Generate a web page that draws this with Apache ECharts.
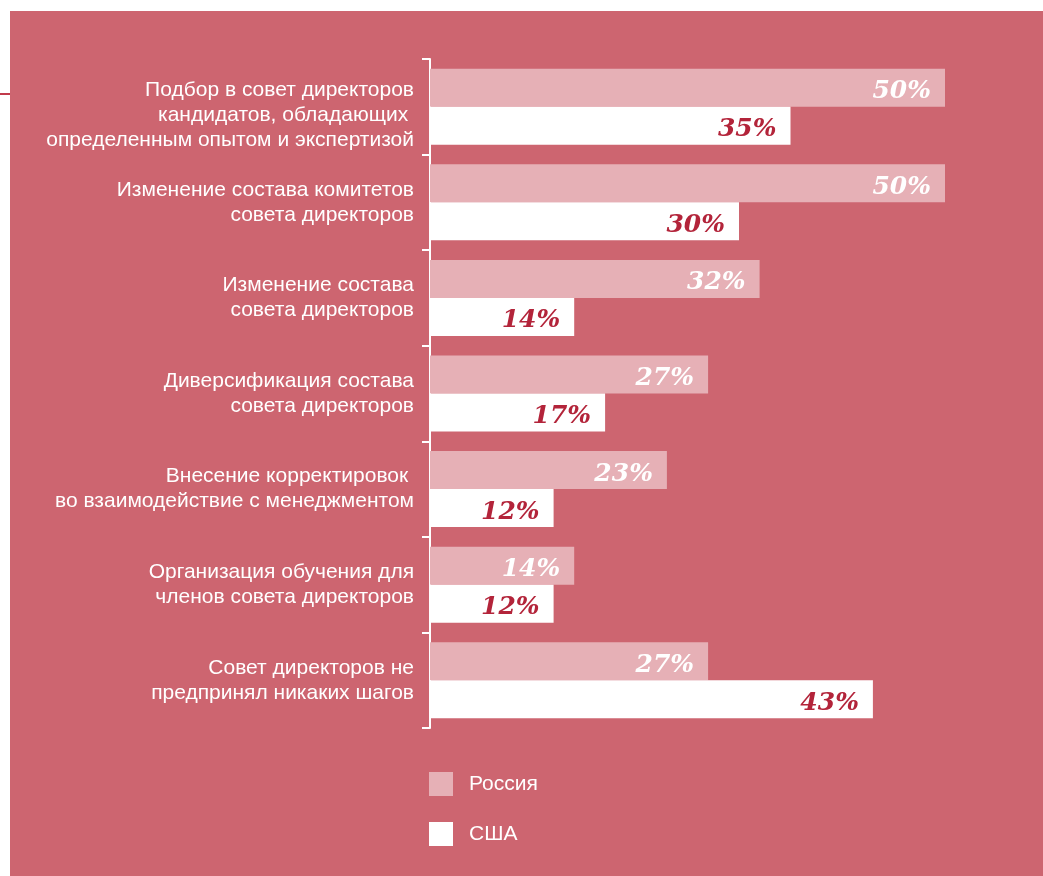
<!DOCTYPE html>
<html>
<head>
<meta charset="utf-8">
<script src="https://cdn.jsdelivr.net/npm/echarts@6/dist/echarts.min.js"></script>
<style>
  html, body { margin: 0; padding: 0; background: #ffffff; }
  #chart { width: 1043px; height: 876px; }
</style>
</head>
<body>
<div id="chart"></div>
<script>
// Board actions taken after the evaluation, Russia vs USA (% of respondents)
const categories = [
  'Подбор в совет директоров\nкандидатов, обладающих \nопределенным опытом и экспертизой',
  'Изменение состава комитетов\nсовета директоров',
  'Изменение состава\nсовета директоров',
  'Диверсификация состава\nсовета директоров',
  'Внесение корректировок \nво взаимодействие с менеджментом',
  'Организация обучения для\nчленов совета директоров',
  'Совет директоров не\nпредпринял никаких шагов'
];
const seriesNames = ['Россия', 'США'];
const russia = [50, 50, 32, 27, 23, 14, 27];
const usa = [35, 30, 14, 17, 12, 12, 43];

const BG = '#cd6570';
const RU_COLOR = '#e6b0b6';
const US_COLOR = '#ffffff';
const US_LABEL = '#b3243a';

const chart = echarts.init(document.getElementById('chart'));

const valueLabel = (color) => ({
  show: true,
  position: 'insideRight',
  distance: 14,
  offset: [0, 4],
  formatter: '{c}%',
  color: color,
  fontFamily: '"DejaVu Serif", serif',
  fontStyle: 'italic',
  fontWeight: 'bold',
  fontSize: 25
});

chart.setOption({
  backgroundColor: '#ffffff',
  animation: false,
  graphic: [
    { type: 'rect', z: -10, shape: { x: 10, y: 11, width: 1033, height: 865 }, style: { fill: BG } },
    { type: 'rect', z: -10, shape: { x: 0, y: 93, width: 10, height: 2 }, style: { fill: '#c13a4b' } }
  ],
  legend: {
    orient: 'vertical',
    left: 429,
    top: 772,
    padding: 0,
    itemWidth: 24,
    itemHeight: 24,
    itemGap: 26,
    icon: 'rect',
    textStyle: {
      color: '#ffffff',
      fontFamily: '"Liberation Sans", Arial, sans-serif',
      fontSize: 21,
      padding: [0, 0, 0, 11]
    },
    data: seriesNames
  },
  grid: { left: 430, right: 98, top: 59, bottom: 148, containLabel: false },
  xAxis: {
    type: 'value',
    min: 0,
    max: 50,
    show: false
  },
  yAxis: {
    type: 'category',
    inverse: true,
    data: categories,
    axisLine: { show: true, lineStyle: { color: '#ffffff', width: 2 } },
    axisTick: { show: true, length: 8, lineStyle: { color: '#ffffff', width: 2 } },
    axisLabel: {
      color: '#ffffff',
      fontFamily: '"Liberation Sans", Arial, sans-serif',
      fontSize: 21,
      lineHeight: 25,
      margin: 16,
      align: 'right',
      // the three-line first label sits a little below its band centre
      formatter: (value, index) => (index === 0 ? '{gap|}\n' + value : value),
      rich: {
        gap: { height: 16, lineHeight: 16, fontSize: 1 }
      }
    },
    splitLine: { show: false }
  },
  series: [
    {
      name: seriesNames[0],
      type: 'bar',
      data: russia,
      barWidth: 38,
      barGap: '0%',
      itemStyle: { color: RU_COLOR },
      label: valueLabel('#ffffff')
    },
    {
      name: seriesNames[1],
      type: 'bar',
      data: usa,
      barWidth: 38,
      barGap: '0%',
      itemStyle: { color: US_COLOR },
      label: valueLabel(US_LABEL)
    }
  ]
});
</script>
</body>
</html>
